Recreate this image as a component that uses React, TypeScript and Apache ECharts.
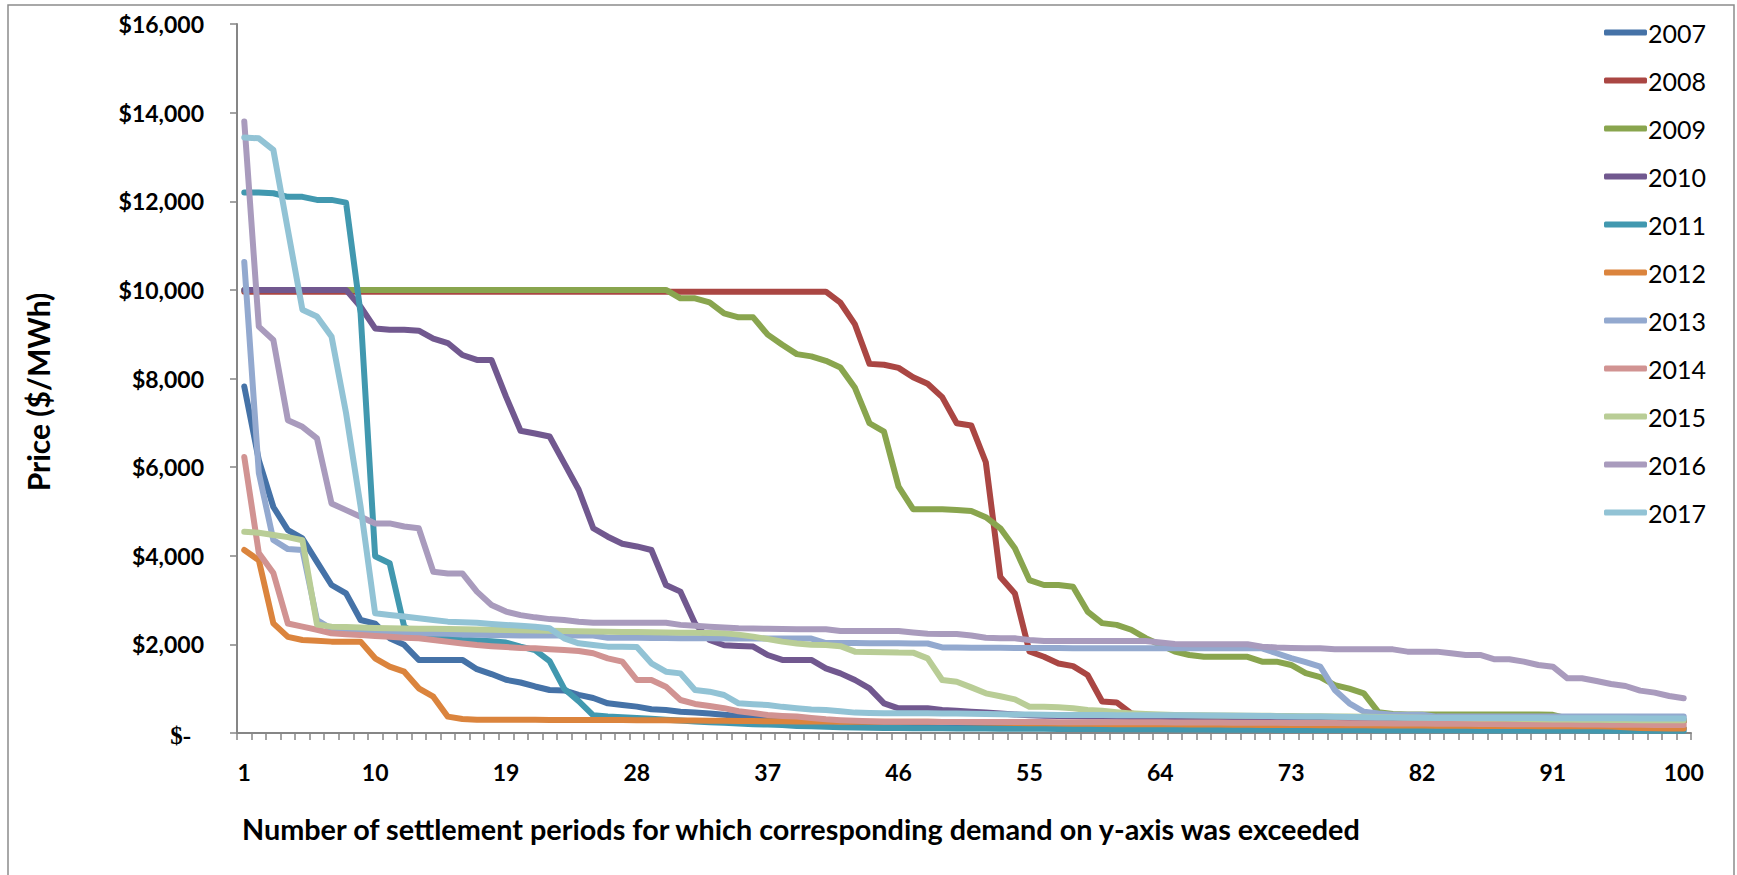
import React, { useEffect, useRef } from "react";
import * as echarts from "echarts";

const categories: string[] = [];
for (let i = 1; i <= 100; i++) categories.push(String(i));

const years = ["2007", "2008", "2009", "2010", "2011", "2012", "2013", "2014", "2015", "2016", "2017"];
const colors = ["#4572A7", "#AA4643", "#89A54E", "#71588F", "#4198AF", "#DB843D", "#93A9CF", "#D19392", "#B9CD96", "#A99BBD", "#92C3D5"];

const y2007 = [
  7820, 6160, 5100, 4580, 4390, 3860, 3340, 3150, 2550, 2470,
  2140, 1990, 1650, 1650, 1650, 1650, 1440, 1330, 1200, 1140,
  1050, 970, 960, 860, 790, 670, 630, 595, 535, 520,
  480, 460, 440, 410, 385, 360, 330, 300, 290, 280,
  270, 260, 250, 240, 230, 220, 215, 210, 205, 200,
  200, 195, 195, 190, 190, 185, 185, 180, 180, 180,
  175, 175, 170, 170, 170, 165, 165, 160, 160, 160,
  155, 155, 155, 150, 150, 150, 150, 145, 145, 145,
  140, 140, 140, 140, 135, 135, 135, 130, 130, 130,
  130, 125, 125, 125, 120, 120, 120, 115, 115, 110,
];
const y2008 = [
  9960, 9960, 9960, 9960, 9960, 9960, 9960, 9960, 9960, 9960,
  9960, 9960, 9960, 9960, 9960, 9960, 9960, 9960, 9960, 9960,
  9960, 9960, 9960, 9960, 9960, 9960, 9960, 9960, 9960, 9960,
  9960, 9960, 9960, 9960, 9960, 9960, 9960, 9960, 9960, 9960,
  9960, 9710, 9220, 8330, 8310, 8240, 8030, 7880, 7580, 6990,
  6940, 6110, 3520, 3150, 1840, 1720, 1570, 1510, 1310, 710,
  690, 440, 380, 350, 340, 330, 330, 325, 325, 320,
  320, 315, 315, 310, 310, 305, 305, 300, 300, 300,
  295, 295, 290, 290, 290, 285, 285, 280, 280, 280,
  275, 275, 270, 270, 265, 265, 260, 260, 255, 255,
];
const y2009 = [
  10000, 10000, 10000, 10000, 10000, 10000, 10000, 10000, 10000, 10000,
  10000, 10000, 10000, 10000, 10000, 10000, 10000, 10000, 10000, 10000,
  10000, 10000, 10000, 10000, 10000, 10000, 10000, 10000, 10000, 10000,
  9810, 9810, 9720, 9470, 9380, 9380, 8990, 8760, 8550, 8500,
  8400, 8250, 7790, 6990, 6800, 5560, 5050, 5050, 5050, 5030,
  5010, 4870, 4620, 4170, 3450, 3340, 3340, 3300, 2740, 2480,
  2440, 2330, 2140, 1990, 1840, 1760, 1720, 1720, 1720, 1720,
  1610, 1610, 1535, 1350, 1260, 1080, 1000, 895, 470, 430,
  420, 420, 420, 420, 420, 420, 420, 420, 420, 420,
  410, 330, 320, 310, 300, 300, 290, 290, 280, 280,
];
const y2010 = [
  10000, 10000, 10000, 10000, 10000, 10000, 10000, 10000, 9620, 9130,
  9100, 9100, 9080, 8900, 8800, 8530, 8420, 8420, 7590, 6820,
  6760, 6690, 6090, 5490, 4620, 4430, 4270, 4210, 4130, 3340,
  3190, 2470, 2100, 1980, 1963, 1950, 1760, 1650, 1650, 1650,
  1460, 1346, 1196, 1008, 670, 557, 557, 557, 520, 500,
  481, 460, 440, 420, 400, 390, 385, 380, 375, 370,
  365, 360, 355, 350, 350, 345, 345, 340, 340, 335,
  335, 330, 330, 325, 325, 320, 320, 318, 316, 314,
  312, 310, 310, 308, 306, 305, 304, 303, 302, 301,
  300, 300, 300, 300, 300, 300, 300, 300, 300, 300,
];
const y2011 = [
  12200, 12200, 12180, 12100, 12100, 12030, 12030, 11970, 9470, 3990,
  3830, 2400, 2200, 2150, 2130, 2110, 2090, 2070, 2040, 1950,
  1870, 1620, 1000, 720, 400, 370, 355, 340, 320, 300,
  280, 260, 245, 230, 215, 200, 190, 180, 160, 150,
  140, 130, 125, 120, 115, 112, 110, 105, 105, 100,
  100, 100, 98, 96, 95, 94, 92, 90, 90, 88,
  86, 85, 84, 82, 80, 80, 78, 76, 75, 74,
  72, 70, 70, 68, 68, 66, 66, 65, 64, 64,
  62, 62, 60, 60, 60, 58, 58, 56, 56, 55,
  55, 54, 54, 52, 52, 50, 50, 50, 48, 48,
];
const y2012 = [
  4130, 3900, 2475, 2170, 2100, 2084, 2062, 2062, 2062, 1685,
  1497, 1384, 1008, 820, 369, 316, 300, 300, 300, 300,
  300, 295, 295, 295, 295, 293, 293, 290, 290, 290,
  280, 280, 275, 275, 270, 270, 265, 265, 260, 260,
  258, 256, 256, 256, 256, 256, 255, 255, 250, 250,
  240, 235, 230, 225, 220, 220, 215, 210, 210, 205,
  200, 200, 200, 195, 195, 190, 190, 190, 185, 185,
  180, 180, 180, 180, 175, 175, 175, 175, 170, 170,
  170, 170, 165, 165, 165, 160, 160, 160, 160, 155,
  155, 155, 150, 150, 145, 130, 115, 105, 100, 100,
];
const y2013 = [
  10630, 5870, 4355, 4150, 4130, 2550, 2350, 2300, 2280, 2270,
  2260, 2255, 2250, 2245, 2240, 2220, 2215, 2210, 2205, 2200,
  2200, 2200, 2200, 2200, 2200, 2150, 2150, 2150, 2145, 2145,
  2140, 2140, 2140, 2135, 2135, 2135, 2130, 2130, 2130, 2130,
  2030, 2030, 2030, 2025, 2025, 2025, 2020, 2020, 1930, 1930,
  1925, 1925, 1925, 1920, 1920, 1920, 1920, 1915, 1915, 1915,
  1915, 1915, 1910, 1910, 1910, 1910, 1910, 1910, 1910, 1910,
  1910, 1800, 1690, 1600, 1500, 970, 670, 480, 440, 410,
  410, 410, 370, 370, 370, 370, 370, 370, 370, 370,
  370, 370, 370, 370, 370, 370, 370, 370, 370, 370,
];
const y2014 = [
  6230, 4060, 3610, 2470, 2400, 2330, 2250, 2230, 2210, 2190,
  2170, 2150, 2136, 2100, 2060, 2020, 1986, 1960, 1940, 1920,
  1911, 1890, 1873, 1850, 1800, 1685, 1610, 1196, 1196, 1046,
  745, 655, 610, 560, 490, 450, 407, 385, 370, 340,
  310, 290, 275, 265, 256, 256, 255, 255, 250, 250,
  250, 248, 248, 248, 248, 248, 245, 245, 245, 240,
  240, 240, 240, 240, 235, 235, 235, 235, 230, 230,
  230, 230, 225, 225, 225, 225, 220, 220, 220, 215,
  215, 215, 210, 210, 210, 205, 205, 200, 200, 200,
  195, 195, 190, 190, 185, 185, 185, 180, 180, 180,
];
const y2015 = [
  4540, 4520, 4470, 4420, 4350, 2450, 2400, 2390, 2380, 2370,
  2365, 2360, 2355, 2350, 2345, 2340, 2335, 2330, 2325, 2320,
  2315, 2310, 2300, 2295, 2290, 2285, 2280, 2280, 2275, 2270,
  2265, 2260, 2255, 2250, 2220, 2175, 2120, 2062, 2020, 1990,
  1986, 1960, 1836, 1830, 1825, 1815, 1813, 1685, 1196, 1158,
  1030, 895, 830, 760, 593, 593, 580, 560, 518, 500,
  470, 443, 430, 415, 406, 400, 400, 395, 395, 390,
  390, 385, 385, 380, 380, 375, 370, 365, 360, 355,
  350, 345, 340, 340, 335, 330, 325, 320, 315, 310,
  305, 305, 300, 300, 295, 295, 290, 290, 290, 290,
];
const y2016 = [
  13800, 9170, 8870, 7060, 6910, 6650, 5180, 5030, 4880, 4730,
  4730, 4660, 4620, 3640, 3600, 3600, 3190, 2890, 2740, 2660,
  2610, 2570, 2550, 2510, 2490, 2490, 2490, 2490, 2490, 2490,
  2440, 2420, 2400, 2380, 2365, 2360, 2350, 2345, 2340, 2340,
  2340, 2300, 2300, 2300, 2300, 2300, 2270, 2240, 2235, 2235,
  2200, 2150, 2140, 2137, 2100, 2077, 2077, 2077, 2077, 2077,
  2077, 2077, 2077, 2040, 2009, 2001, 2001, 2001, 2001, 2001,
  1948, 1930, 1920, 1915, 1911, 1888, 1888, 1888, 1888, 1888,
  1836, 1836, 1836, 1800, 1761, 1761, 1663, 1663, 1610, 1535,
  1497, 1234, 1234, 1173, 1106, 1061, 956, 911, 836, 783,
];
const y2017 = [
  13440, 13420, 13160, 11350, 9550, 9400, 8950, 7220, 5110, 2700,
  2664, 2630, 2588, 2550, 2513, 2500, 2490, 2460, 2437, 2420,
  2400, 2362, 2136, 2024, 1986, 1949, 1949, 1940, 1572, 1384,
  1346, 971, 933, 858, 670, 650, 632, 590, 557, 530,
  520, 490, 460, 450, 444, 444, 444, 444, 440, 440,
  435, 430, 425, 420, 415, 410, 406, 406, 405, 405,
  400, 400, 400, 400, 400, 400, 395, 395, 390, 390,
  385, 380, 375, 370, 370, 365, 360, 355, 350, 350,
  345, 345, 340, 340, 340, 340, 338, 338, 338, 338,
  335, 335, 335, 335, 335, 335, 330, 330, 330, 330,
];

const seriesValues = [y2007, y2008, y2009, y2010, y2011, y2012, y2013, y2014, y2015, y2016, y2017];

const yTickValues = [0, 2000, 4000, 6000, 8000, 10000, 12000, 14000, 16000];

const xTitle = "Number of settlement periods for which corresponding demand on y-axis was exceeded";
const yTitle = "Price ($/MWh)";

const FONT = "Lato, 'Liberation Sans', Arial, sans-serif";

export default function App() {
  const ref = useRef<HTMLDivElement>(null);

  useEffect(() => {
    if (!ref.current) return;
    const chart = echarts.init(ref.current, undefined, { renderer: "svg" });

    const series = years.map((y, i) => ({
      name: y,
      type: "line",
      data: seriesValues[i],
      symbol: "none",
      showSymbol: false,
      smooth: false,
      lineStyle: { width: 6, color: colors[i], cap: "round", join: "round" },
      itemStyle: { color: colors[i] },
      emphasis: { disabled: true },
    }));

    chart.setOption({
      animation: false,
      backgroundColor: "#ffffff",
      grid: { left: 237, right: 46, top: 24, bottom: 142, containLabel: false },
      legend: {
        orient: "vertical",
        left: 1599,
        top: 15,
        icon: "roundRect",
        itemWidth: 43,
        itemHeight: 6,
        itemGap: 23,
        data: years,
        textStyle: {
          fontFamily: FONT,
          fontSize: 25,
          color: "#000",
          lineHeight: 25,
          padding: [0, 0, 0, -4],
        },
      },
      xAxis: {
        type: "category",
        data: categories,
        boundaryGap: true,
        axisLine: { show: true, lineStyle: { color: "#868686", width: 2 } },
        axisTick: { show: true, interval: 0, length: 7, inside: false, lineStyle: { color: "#868686", width: 1.5 } },
        axisLabel: {
          interval: 8,
          margin: 27,
          color: "#000",
          fontFamily: FONT,
          fontWeight: "bold",
          fontSize: 23,
        },
        splitLine: { show: false },
      },
      yAxis: {
        type: "value",
        min: yTickValues[0],
        max: yTickValues[yTickValues.length - 1],
        interval: 2000,
        axisLine: { show: true, lineStyle: { color: "#868686", width: 2 } },
        axisTick: { show: true, length: 7, inside: false, lineStyle: { color: "#868686", width: 1.5 } },
        axisLabel: {
          margin: 33,
          color: "#000",
          fontFamily: FONT,
          fontWeight: "bold",
          fontSize: 23,
          formatter: (v: number) => (v === 0 ? "{z|$-}" : "$" + v.toLocaleString("en-US")),
          rich: {
            z: {
              fontFamily: "'Liberation Serif', 'DejaVu Serif', serif",
              fontWeight: "bold",
              fontSize: 25,
              color: "#000",
              padding: [4, 13, 0, 0],
            },
          },
        },
        splitLine: { show: false },
      },
      graphic: [
        {
          type: "rect",
          shape: { x: 8, y: 5, width: 1726, height: 880 },
          style: { fill: "none", stroke: "#8c8c8c", lineWidth: 1.5 },
          silent: true,
          z: -1,
        },
        {
          type: "text",
          x: 242,
          y: 829,
          style: {
            text: xTitle,
            font: `bold 28.8px ${FONT}`,
            fill: "#000",
            textAlign: "left",
            textVerticalAlign: "middle",
          },
        },
        {
          type: "text",
          x: 38,
          y: 392,
          rotation: Math.PI / 2,
          style: {
            text: yTitle,
            font: `bold 30px ${FONT}`,
            fill: "#000",
            textAlign: "center",
            textVerticalAlign: "middle",
          },
        },
      ],
      series,
    });

    return () => chart.dispose();
  }, []);

  return (
    <div
      ref={ref}
      style={{ position: "fixed", left: 0, top: 0, width: 1737, height: 875, background: "#fff" }}
    />
  );
}
